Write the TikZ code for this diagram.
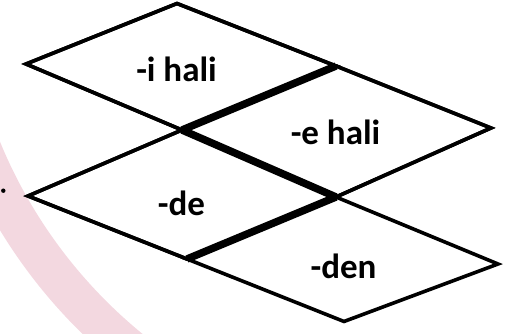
\documentclass[tikz,border=0pt]{standalone}
\usepackage{fontspec}
\setmainfont{Carlito}
\definecolor{pinkwm}{RGB}{243,216,224}
\begin{document}
\begin{tikzpicture}[x=1pt,y=-1pt,
  edge/.style={line width=3.6pt, line join=miter},
  heavy/.style={line width=7.5pt, line cap=butt},
  lbl/.style={font=\fontsize{35}{40}\selectfont\bfseries, inner sep=0pt, anchor=base}]
\useasboundingbox (0,0) rectangle (512,334);
\begin{scope}
  \clip (0,0) rectangle (512,334);
  \draw[pinkwm, line width=40pt] (449,-42) circle (505pt);
\end{scope}
% vertices
\coordinate (L1) at (26,64);
\coordinate (T1) at (177,3.5);
\coordinate (R1) at (336,66);
\coordinate (B1) at (182,130);
\coordinate (R2) at (491,128);
\coordinate (B2) at (336,197);
\coordinate (L3) at (28,196);
\coordinate (B3) at (187,259);
\coordinate (R4) at (498,264);
\coordinate (B4) at (344,321.5);
% diamonds
\draw[edge, fill=white] (L1) -- (T1) -- (R1) -- (B1) -- cycle;
\draw[edge, fill=white] (B1) -- (R1) -- (R2) -- (B2) -- cycle;
\draw[edge, fill=white] (L3) -- (B1) -- (B2) -- (B3) -- cycle;
\draw[edge, fill=white] (B3) -- (B2) -- (R4) -- (B4) -- cycle;
\draw[edge] (L1) -- (T1) -- (R1) -- (B1) -- cycle;
\draw[edge] (B1) -- (R1) -- (R2) -- (B2) -- cycle;
\draw[edge] (L3) -- (B1) -- (B2) -- (B3) -- cycle;
% heavy shared edges
\draw[heavy] (R1) -- (B1);
\draw[heavy] (B1) -- (B2);
\draw[heavy] (B2) -- (B3);
% dot
\fill (3.3,190.7) circle (2.2pt) coordinate (dot);
% labels
\node[lbl] (ihali) at (176.5,82) {-i hali};
\node[lbl] (ehali) at (335.5,145) {-e hali};
\node[lbl] (de) at (181.5,215) {-de};
\node[lbl] (den) at (343.5,278) {-den};
\end{tikzpicture}
\end{document}
